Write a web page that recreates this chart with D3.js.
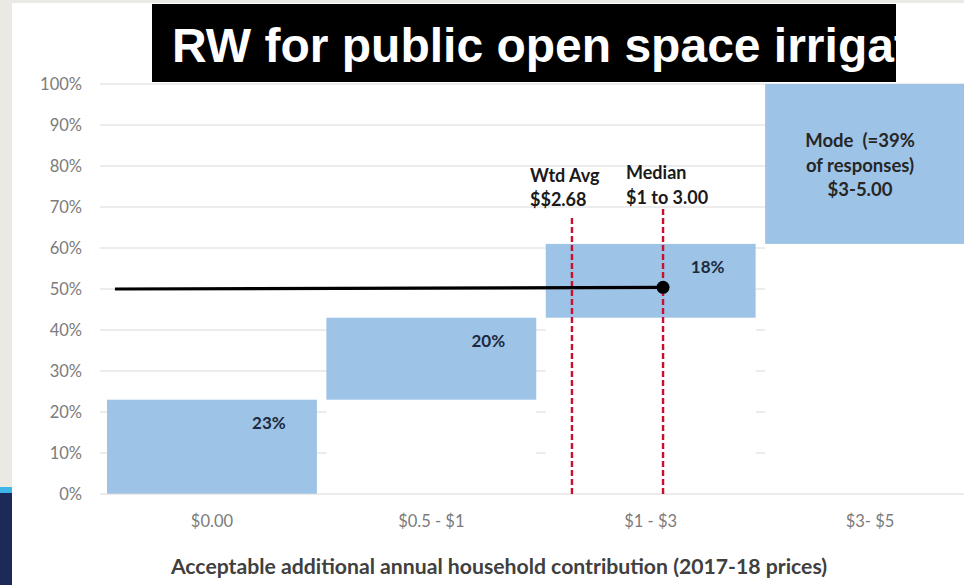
<!DOCTYPE html>
<html><head><meta charset="utf-8">
<script src="https://cdn.jsdelivr.net/npm/d3@7"></script>
<style>
html,body{margin:0;padding:0;background:#ebe9e4;overflow:hidden}
svg{display:block}
text{white-space:pre}
</style></head>
<body>
<script>
// ---- data ----
const categories = ["$0.00", "$0.5 - $1", "$1 - $3", "$3- $5"];
const shares = [23, 20, 18, 39];           // % of responses per band
const barLabels = ["23%", "20%", "18%", null];
const yTicks = [0,10,20,30,40,50,60,70,80,90,100];
const modeText = ["Mode  (=39%", "of responses)", "$3-5.00"];
// reference markers (positions in category units along x, value in %)
const medianLine = {x: 2.556, top: 69.5, label: ["Median", "$1 to 3.00"]};
const wtdAvgLine = {x: 2.141, top: 67.3, label: ["Wtd Avg", "$$2.68"]};
const cumLine = [{x: 0.059, y: 50}, {x: 2.556, y: 50.4}];
const titleText = "RW for public open space irrigation";
const xTitle = "Acceptable additional annual household contribution (2017-18 prices)";

// ---- layout ----
const W = 964, H = 585;
const svg = d3.select("body").append("svg").attr("width", W).attr("height", H);
const font = "Lato, 'Open Sans', sans-serif";

// background panel
svg.append("rect").attr("x", 0).attr("y", 0).attr("width", W).attr("height", H).attr("fill", "#ebe9e4");
svg.append("rect").attr("x", 12).attr("y", 3).attr("width", W).attr("height", H).attr("fill", "#ffffff");
svg.append("rect").attr("x", 0).attr("y", 487).attr("width", 12).attr("height", 6).attr("fill", "#3fb6e8");
svg.append("rect").attr("x", 0).attr("y", 493).attr("width", 12).attr("height", H - 493).attr("fill", "#1b2a58");

const x = d3.scaleBand().domain(categories).range([102, 980]).paddingInner(0.0433).paddingOuter(0.0228);
const xPos = d3.scaleLinear().domain([0, 4]).range([102, 980]);
const y = d3.scaleLinear().domain([0, 100]).range([494, 84]);

// cumulative bases
let acc = 0;
const bars = categories.map((c, i) => { const b = {cat: c, base: acc, top: acc + shares[i], label: barLabels[i]}; acc += shares[i]; return b; });

// gridlines
const g = svg.append("g");
g.selectAll("line.grid").data(yTicks.filter(d => d > 0)).join("line")
  .attr("x1", 100).attr("x2", W).attr("y1", d => y(d)).attr("y2", d => y(d))
  .attr("stroke", "#d9d9d9").attr("stroke-width", 1);

// invisible (white) base bars
g.selectAll("rect.base").data(bars.filter(b => b.base > 0)).join("rect")
  .attr("x", d => x(d.cat)).attr("width", x.bandwidth())
  .attr("y", d => y(d.base)).attr("height", d => y(0) - y(d.base))
  .attr("fill", "#ffffff");

// visible bars
g.selectAll("rect.bar").data(bars).join("rect")
  .attr("x", d => x(d.cat)).attr("width", x.bandwidth())
  .attr("y", d => y(d.top)).attr("height", d => y(d.base) - y(d.top))
  .attr("fill", "#9dc3e6");

// axis line
g.append("line").attr("x1", 100).attr("x2", W).attr("y1", y(0)).attr("y2", y(0))
  .attr("stroke", "#d9d9d9").attr("stroke-width", 1.2);

// y tick labels
g.selectAll("text.yt").data(yTicks).join("text")
  .attr("x", 82).attr("y", d => y(d)).attr("dy", "0.36em")
  .attr("text-anchor", "end").attr("font-family", font).attr("font-size", 16.5)
  .attr("fill", "#7b7b7b").text(d => d + "%");

// x tick labels
g.selectAll("text.xt").data(categories).join("text")
  .attr("x", d => x(d) + x.bandwidth() / 2).attr("y", 527)
  .attr("text-anchor", "middle").attr("font-family", font).attr("font-size", 16.5)
  .attr("fill", "#7b7b7b").text(d => d);

// x title
g.append("text").attr("x", 499).attr("y", 574).attr("text-anchor", "middle")
  .attr("font-family", font).attr("font-size", 21.2).attr("font-weight", "bold")
  .attr("fill", "#404040").text(xTitle);

// bar value labels
g.selectAll("text.bl").data(bars.filter(b => b.label)).join("text")
  .attr("x", d => x(d.cat) + x.bandwidth() / 2 + 57).attr("y", d => y(d.top) + 29.5)
  .attr("text-anchor", "middle").attr("font-family", font).attr("font-size", 17)
  .attr("font-weight", "bold").attr("fill", "#1c2a40").text(d => d.label);

// mode text
const modeBar = bars[3];
g.selectAll("text.mode").data(modeText).join("text")
  .attr("x", 860).attr("y", (d, i) => y(modeBar.top) + 63 + i * 24.5)
  .attr("text-anchor", "middle").attr("font-family", font).attr("font-size", 18.5)
  .attr("font-weight", "bold").attr("fill", "#262626").text(d => d);

// dashed reference lines
[wtdAvgLine, medianLine].forEach(m => {
  g.append("line").attr("x1", xPos(m.x)).attr("x2", xPos(m.x))
    .attr("y1", y(m.top)).attr("y2", y(0))
    .attr("stroke", "#c8102e").attr("stroke-width", 2.4).attr("stroke-dasharray", "6,3");
});

// cumulative line & point
const line = d3.line().x(d => xPos(d.x)).y(d => y(d.y));
g.append("path").datum(cumLine).attr("d", line).attr("fill", "none")
  .attr("stroke", "#000").attr("stroke-width", 3.2);
g.append("circle").attr("cx", xPos(cumLine[1].x)).attr("cy", y(cumLine[1].y)).attr("r", 6.5).attr("fill", "#000");

// annotation labels
g.selectAll("text.wa").data(wtdAvgLine.label).join("text")
  .attr("x", 530).attr("y", (d, i) => 182 + i * 24)
  .attr("font-family", font).attr("font-size", 18).attr("font-weight", "bold")
  .attr("fill", "#1a1a1a").text(d => d);
g.selectAll("text.md").data(medianLine.label).join("text")
  .attr("x", 626).attr("y", (d, i) => 179 + i * 24.5)
  .attr("font-family", font).attr("font-size", 18).attr("font-weight", "bold")
  .attr("fill", "#1a1a1a").text(d => d);

// title box
const defs = svg.append("defs");
defs.append("clipPath").attr("id", "tclip").append("rect")
  .attr("x", 152).attr("y", 4).attr("width", 744).attr("height", 78);
svg.append("rect").attr("x", 152).attr("y", 4).attr("width", 744).attr("height", 78).attr("fill", "#000");
svg.append("text").attr("clip-path", "url(#tclip)").attr("x", 172).attr("y", 62)
  .attr("font-family", "'Liberation Sans', Arial, sans-serif").attr("font-weight", "bold")
  .attr("font-size", 48).attr("fill", "#fff").text(titleText);
</script>
</body></html>
